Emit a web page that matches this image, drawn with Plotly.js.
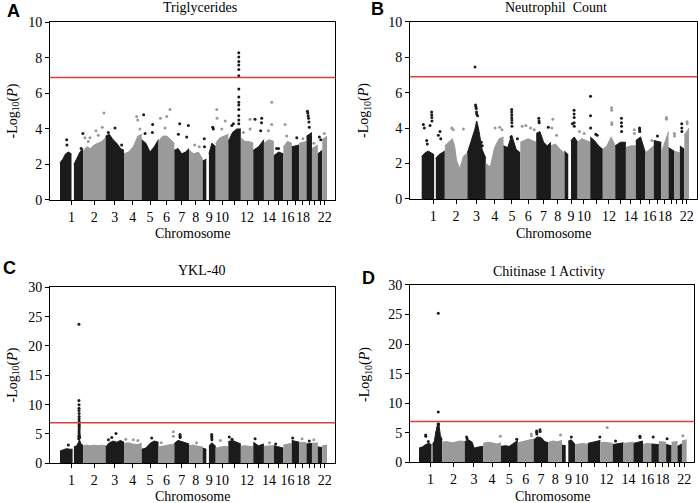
<!DOCTYPE html>
<html><head><meta charset="utf-8">
<script src="https://cdn.plot.ly/plotly-3.0.1.min.js"></script>
<style>html,body{margin:0;padding:0;background:#fff}#chart{width:698px;height:503px}</style>
</head><body><div id="chart"></div>
<script>
// ---------- DATA ----------
const chromLen = [249,243,198,191,181,171,159,146,141,136,135,134,115,107,103,90,81,78,59,63,48,51];
const chromLabels = ['1','2','3','4','5','6','7','8','9','10','','12','','14','','16','','18','','','','22'];
const sigThreshold = 6.9;

// envelope of the dense point mass per chromosome: [Mb, -log10 P]; null = gap (centromere)
const envA = [
 [[0,2.1],[30,2.3],[60,2.6],[90,2.7],[124,2.6],null,[150,2.0],[185,2.4],[215,2.7],[249,2.9]],
 [[0,2.7],[40,3.0],[80,2.9],[120,3.1],[160,3.2],[200,3.3],[243,3.5]],
 [[0,3.6],[40,3.7],[80,3.4],[120,3.2],[160,2.9],[198,2.8]],
 [[0,2.6],[50,2.7],[100,3.0],[150,3.6],[191,3.7]],
 [[0,3.4],[45,3.2],[90,2.7],[135,3.0],[181,3.4]],
 [[0,3.3],[45,3.6],[90,3.6],[130,3.4],[171,3.2]],
 [[0,2.8],[40,2.9],[80,2.6],[120,2.7],[159,2.9]],
 [[0,2.8],[50,2.6],[100,2.7],[146,2.3]],
 [[0,2.2],[40,2.3],null,[68,2.6],[100,3.2],[141,3.0]],
 [[0,3.2],[45,3.5],[90,3.6],[136,3.7]],
 [[0,3.3],[45,3.8],[90,4.0],[135,4.0]],
 [[0,3.5],[45,3.3],[90,3.3],[134,3.2]],
 [[0,2.8],[57,3.0],[115,3.4]],
 [[0,3.2],[53,3.4],[107,3.3]],
 [[0,2.5],[51,2.7],[103,2.6]],
 [[0,3.0],[45,3.3],[90,3.2]],
 [[0,3.0],[81,3.1]],
 [[0,3.2],[78,3.3]],
 [[0,3.6],[59,3.8]],
 [[0,2.9],[63,3.1]],
 [[0,2.6],[48,2.8]],
 [[0,3.4],[51,3.6]]
];
// sparse points above the mass: [chromosome, Mb, -log10 P]
const outA = [
 [1,72,3.4],[1,75,3.1],[1,228,2.9],[1,247,3.75],
 [2,20,3.5],[2,74,3.5],[2,56,3.3],[2,139,3.9],[2,164,3.65],[2,207,4.1],[2,225,4.9],
 [3,101,4.05],[3,29,3.8],[3,173,3.1],
 [4,137,4.7],[4,148,4.5],[4,172,4.0],
 [5,21,4.8],[5,118,4.25],[5,115,3.8],[5,36,3.75],
 [6,21,4.6],[6,125,5.1],[6,89,4.7],[6,71,4.05],
 [7,58,4.3],[7,43,3.7],[7,151,4.2],[7,133,3.55],
 [8,60,3.1],[8,110,3.0],
 [9,18,3.45],[9,20,3.0],[9,109,4.1],[9,115,4.0],
 [10,12,5.1],[10,14,4.6],[10,102,4.45],[10,66,4.0],
 [11,113,8.3],[11,113,8.05],[11,113,7.8],[11,113,7.6],[11,113,7.35],[11,113,7.0],[11,113,6.25],[11,113,5.8],[11,113,5.5],[11,113,5.35],[11,113,5.1],[11,113,4.75],[11,113,4.5],[11,113,4.3],[11,38,4.2],[11,55,4.3],
 [12,99,4.55],[12,27,3.8],[12,100,4.0],
 [13,19,4.55],[13,91,4.6],[13,89,4.35],[13,80,3.9],
 [14,84,5.5],[14,84,4.25],[14,48,3.9],
 [15,50,2.9],[15,30,2.9],
 [16,18,4.25],[16,36,3.6],
 [17,54,3.5],
 [18,40,3.45],
 [19,10,5.0],[19,14,4.9],[19,18,4.75],[19,22,4.6],[19,26,4.4],[19,30,4.1],
 [20,20,3.2],
 [21,17,3.55],[21,32,3.4],
 [22,23,3.75]
];

const envB = [
 [[0,2.4],[35,2.6],[70,2.7],[105,2.6],[134,2.5],null,[152,2.3],[185,2.5],[215,2.6],[249,2.7]],
 [[0,3.0],[40,3.2],[80,3.4],[105,3.0],[125,2.2],[160,1.7],[200,2.4],[243,2.6]],
 [[0,2.6],[40,3.2],[79,3.9],[100,4.4],[119,4.0],[158,2.8],[198,2.3]],
 [[0,2.0],[48,1.8],[95,2.9],[143,3.4],[191,3.5]],
 [[0,3.0],[45,2.9],[88,3.6],[136,2.8],[181,2.6]],
 [[0,3.2],[43,3.3],[86,3.4],[128,3.3],[171,3.2]],
 [[0,3.7],[40,3.8],[80,3.2],[119,3.0],[159,3.2]],
 [[0,3.0],[49,3.1],[97,2.8],[146,2.6]],
 [[0,2.7],[40,2.5],null,[70,3.3],[105,3.5],[141,3.2]],
 [[0,3.2],[45,3.4],[90,3.3],[136,3.2]],
 [[0,3.5],[45,3.3],[90,3.0],[135,2.8]],
 [[0,2.8],[45,3.0],[90,3.5],[134,3.0]],
 [[0,3.0],[57,3.2],[115,3.2]],
 [[0,2.9],[53,3.0],[107,3.0]],
 [[0,3.3],[51,3.5],[103,2.6]],
 [[0,2.6],[45,2.8],[90,3.0]],
 [[0,3.3],[81,3.2]],
 [[0,2.6],[78,3.8]],
 [[0,2.9],[59,2.7]],
 [[0,2.7],[63,2.6]],
 [[0,3.0],[48,2.8]],
 [[0,3.6],[51,4.0]]
];
const outB = [
 [1,17,4.2],[1,28,4.0],[1,54,3.3],[1,60,3.1],[1,90,4.15],[1,107,4.9],[1,108,4.75],[1,109,4.6],[1,110,4.4],[1,179,3.6],[1,197,3.8],[1,205,3.4],
 [2,75,4.0],[2,90,3.9],[2,200,3.95],
 [3,82,7.45],[3,88,5.3],[3,92,5.2],[3,95,5.1],[3,98,4.9],[3,100,4.8],[3,110,4.7],[3,150,3.2],[3,160,3.0],
 [4,100,4.0],[4,150,4.05],[4,175,3.9],
 [5,88,5.05],[5,88,4.9],[5,89,4.75],[5,89,4.6],[5,90,4.45],[5,90,4.3],[5,91,4.1],[5,80,3.5],[5,150,3.4],
 [6,20,4.1],[6,60,4.15],[6,110,4.0],[6,150,3.9],
 [7,28,4.55],[7,30,4.4],[7,32,4.3],[7,130,4.05],
 [8,20,4.5],[8,10,4.0],[8,60,3.6],
 [9,103,5.0],[9,103,4.8],[9,104,4.6],[9,104,4.3],[9,105,4.1],[9,85,4.25],
 [10,20,3.8],[10,70,3.7],
 [11,3,5.8],[11,3,4.7],[11,4,4.0],[11,60,3.65],[11,75,3.6],
 [12,95,5.15],[12,96,5.0],[12,97,4.3],[12,98,4.2],
 [13,67,4.55],[13,67,4.3],[13,68,4.1],[13,69,3.8],
 [14,90,3.9],[14,91,3.7],
 [15,40,4.0],[15,41,3.9],[15,42,3.8],
 [16,70,3.3],
 [17,40,3.55],
 [18,55,4.6],[18,56,4.5],
 [20,5,3.7],[20,6,3.55],
 [21,20,4.25],[21,21,4.0],[21,22,3.8],
 [22,30,4.35],[22,31,4.25]
];

const envC = [
 [[0,2.1],[35,2.3],[70,2.5],[105,2.4],[136,2.4],null,[150,2.8],[180,3.0],[200,3.6],[210,4.0],[225,3.4],[249,3.0]],
 [[0,3.0],[40,3.1],[80,3.0],[120,3.1],[160,3.0],[200,3.1],[243,3.0]],
 [[0,2.8],[40,3.5],[80,3.8],[120,3.6],[160,3.9],[198,3.6]],
 [[0,3.4],[48,3.5],[95,3.3],[143,3.2],[191,3.4]],
 [[0,2.4],[45,2.6],[90,3.4],[136,3.8],[181,3.6]],
 [[0,2.8],[43,2.9],[86,3.0],[128,3.1],[171,3.3]],
 [[0,3.4],[40,3.9],[80,3.7],[119,3.5],[159,3.3]],
 [[0,3.0],[49,3.1],[97,2.9],[146,2.8]],
 [[0,2.6],[40,2.4],null,[68,3.0],[100,3.5],[141,2.9]],
 [[0,2.6],[45,2.8],[90,2.9],[136,2.8]],
 [[0,3.7],[45,3.9],[90,3.6],[135,3.3]],
 [[0,2.9],[45,3.0],[90,2.9],[134,2.8]],
 [[0,3.6],[57,3.0],[115,3.3]],
 [[0,2.9],[53,3.0],[107,3.0]],
 [[0,3.0],[51,2.8],[103,2.6]],
 [[0,3.1],[45,3.3],[90,3.4]],
 [[0,3.9],[81,3.6]],
 [[0,3.6],[78,3.5]],
 [[0,3.3],[59,3.4]],
 [[0,3.4],[63,3.5]],
 [[0,2.8],[48,2.7]],
 [[0,3.0],[51,3.1]]
];
const outC = [
 [1,204,23.7],[1,204,10.7],[1,205,10.0],[1,205,9.4],[1,205,9.0],[1,206,8.5],[1,206,8.0],[1,206,7.6],[1,206,7.2],[1,207,6.9],[1,207,6.6],[1,207,6.3],[1,207,6.0],[1,206,5.7],[1,205,5.4],[1,206,5.1],[1,208,4.8],[1,203,4.6],[1,209,4.4],[1,202,4.2],[1,211,4.4],[1,90,3.1],
 [3,112,5.1],[3,66,4.4],[3,30,4.0],
 [4,20,4.1],[4,100,4.0],[4,150,3.9],
 [5,108,4.3],
 [6,160,5.4],[6,161,4.6],[6,30,3.5],
 [7,61,4.9],[7,62,4.6],[7,63,4.4],
 [8,80,3.5],
 [9,98,4.9],[9,99,4.6],[9,99,4.3],[9,100,4.0],
 [10,50,3.9],
 [11,10,4.5],[11,40,4.1],
 [13,20,4.2],
 [14,60,3.5],
 [15,20,3.3],
 [17,10,4.3],
 [18,30,4.2],
 [19,30,3.8],
 [20,20,4.0]
];

const envD = [
 [[0,2.4],[35,2.6],[70,3.0],[105,3.2],[134,3.0],null,[145,3.0],[165,3.6],[180,5.0],[195,6.2],[215,6.3],[230,4.5],[249,3.8]],
 [[0,3.4],[40,3.5],[80,3.4],[120,3.3],[160,3.5],[200,3.6],[243,3.5]],
 [[0,3.5],[40,3.8],[80,3.4],[100,2.4],[150,2.6],[198,2.7]],
 [[0,3.2],[48,3.4],[95,3.3],[143,3.1],[191,3.3]],
 [[0,2.7],[45,2.8],[90,2.7],[136,3.2],[181,3.7]],
 [[0,3.3],[43,3.5],[86,3.6],[128,3.8],[171,3.9]],
 [[0,3.8],[40,4.3],[80,4.2],[119,3.5],[159,3.3]],
 [[0,3.4],[49,3.6],[97,3.5],[146,3.7]],
 [[0,2.9],[40,2.8],null,[68,3.6],[100,3.8],[141,3.0]],
 [[0,3.0],[45,3.1],[90,3.2],[136,3.0]],
 [[0,3.2],[45,3.4],[90,3.6],[135,3.7]],
 [[0,3.3],[45,3.4],[90,3.3],[134,3.2]],
 [[0,3.0],[57,3.2],[115,3.3]],
 [[0,3.2],[53,3.3],[107,3.4]],
 [[0,3.2],[51,3.4],[103,3.6]],
 [[0,3.0],[45,3.2],[90,3.1]],
 [[0,3.1],[81,3.0]],
 [[0,3.5],[78,3.4]],
 [[0,3.0],[59,2.8]],
 [[0,3.4],[63,3.5]],
 [[0,2.7],[48,3.1]],
 [[0,3.6],[51,3.8]]
];
const outD = [
 [1,72,4.6],[1,73,4.4],[1,100,3.5],[1,207,25.2],[1,207,8.5],[1,205,6.5],[1,208,6.4],[1,210,6.5],[1,190,5.0],[1,192,4.6],
 [3,20,4.3],[3,25,4.0],
 [4,185,4.4],
 [5,170,3.9],
 [6,145,4.8],[6,146,4.5],
 [7,32,5.3],[7,33,5.1],[7,34,4.8],[7,68,5.5],[7,69,5.2],
 [8,130,4.6],
 [9,100,4.3],
 [11,130,4.3],
 [12,74,5.9],
 [13,30,3.6],
 [15,70,4.4],[15,71,4.2],
 [17,20,4.3],
 [19,10,4.0],
 [22,10,4.5]
];

// ---------- BUILD ----------
const BLACK = '#1b1b1b', GRAY = '#9a9a9a';
const SERIF = 'Liberation Serif';
const offs = []; let acc = 0;
chromLen.forEach(l => { offs.push(acc); acc += l; });
const mids = chromLen.map((l,i) => offs[i] + l/2);

const panels = [
 {env: envA, pts: outA, sfx: '',  xd:[0.0716,0.4799], yd:[0.6024,0.9553], xr:[-108,2965], yr:[0,10], yt:[0,2,4,6,8,10]},
 {env: envB, pts: outB, sfx: '2', xd:[0.5874,0.9986], yd:[0.6044,0.9569], xr:[-126,2965], yr:[0,10], yt:[0,2,4,6,8,10]},
 {env: envC, pts: outC, sfx: '3', xd:[0.0716,0.4799], yd:[0.0789,0.4288], xr:[-108,2965], yr:[0,30], yt:[0,5,10,15,20,25,30]},
 {env: envD, pts: outD, sfx: '4', xd:[0.5874,0.9943], yd:[0.0809,0.4334], xr:[-97,2958],  yr:[0,30], yt:[0,5,10,15,20,25,30]}
];

const traces = [];
const layout = {
  width: 698, height: 503, margin: {l:0, r:0, t:0, b:0},
  paper_bgcolor: '#fff', plot_bgcolor: '#fff', showlegend: false,
  font: {family: SERIF, size: 14, color: '#000'},
  shapes: [], annotations: []
};
const mkFont = (fam, size, weight) => ({family: fam, size: size, color: '#000', weight: weight || 'normal'});

panels.forEach(p => {
  const xa = 'x' + p.sfx, ya = 'y' + p.sfx;
  p.env.forEach((list, c) => {
    const col = (c % 2 === 0) ? BLACK : GRAY;
    let run = [];
    const flush = () => {
      if (run.length) {
        traces.push({type:'scatter', mode:'lines', x: run.map(q => offs[c] + q[0]), y: run.map(q => q[1]),
          fill:'tozeroy', fillcolor: col, line:{color: col, width: 1}, xaxis: xa, yaxis: ya, hoverinfo:'skip'});
      }
      run = [];
    };
    list.forEach(q => { if (q === null) flush(); else run.push(q); });
    flush();
  });
  [[BLACK, 1], [GRAY, 0]].forEach(([col, par]) => {
    const sel = p.pts.filter(q => q[0] % 2 === par);
    traces.push({type:'scatter', mode:'markers', x: sel.map(q => offs[q[0]-1] + q[1]), y: sel.map(q => q[2]),
      marker:{color: col, size: 3}, xaxis: xa, yaxis: ya, hoverinfo:'skip'});
  });
  layout['xaxis' + p.sfx] = {domain: p.xd, range: p.xr, anchor: ya, tickmode:'array', tickvals: mids, ticktext: chromLabels,
    ticks:'outside', ticklen: 4, tickwidth: 1, tickcolor:'#000', tickangle: 0, showline: true, linecolor:'#000', linewidth: 1,
    mirror: true, showgrid: false, zeroline: false, tickfont: mkFont(SERIF, 14), fixedrange: true};
  layout['yaxis' + p.sfx] = {domain: p.yd, range: p.yr, anchor: xa, tickmode:'array', tickvals: p.yt,
    ticks:'outside', ticklen: 4, tickwidth: 1, tickcolor:'#000', showline: true, linecolor:'#000', linewidth: 1,
    mirror: true, showgrid: false, zeroline: false, tickfont: mkFont(SERIF, 14), fixedrange: true};
  layout.shapes.push({type:'line', xref: xa + ' domain', yref: ya, x0: 0, x1: 1, y0: sigThreshold, y1: sigThreshold,
    line:{color:'#d8403f', width: 1.5}});
});

const W = 698, H = 503;
function ann(text, px, py, font, extra) {
  layout.annotations.push(Object.assign({text: text, x: px / W, y: 1 - py / H, xref:'paper', yref:'paper',
    showarrow:false, xanchor:'center', yanchor:'middle', font: font}, extra || {}));
}
ann('Triglycerides', 200, 8, mkFont(SERIF, 14));
ann('Neutrophil\u00a0 Count', 555.5, 7.5, mkFont(SERIF, 14));
ann('YKL-40', 201, 270, mkFont(SERIF, 14));
ann('Chitinase 1 Activity', 549, 271, mkFont(SERIF, 14));
ann('A', 13, 11, mkFont('Liberation Sans', 18, 'bold'));
ann('B', 377.5, 9, mkFont('Liberation Sans', 18, 'bold'));
ann('C', 9, 267.5, mkFont('Liberation Sans', 18, 'bold'));
ann('D', 368.7, 277.5, mkFont('Liberation Sans', 18, 'bold'));
const yTitle = '-Log<sub>10</sub>(<i>P</i>)';
ann(yTitle, 12.5, 111, mkFont(SERIF, 14), {textangle: -90});
ann(yTitle, 364, 110, mkFont(SERIF, 14), {textangle: -90});
ann(yTitle, 12.5, 375, mkFont(SERIF, 14), {textangle: -90});
ann(yTitle, 365, 374, mkFont(SERIF, 14), {textangle: -90});
ann('Chromosome', 192.5, 233.5, mkFont(SERIF, 14));
ann('Chromosome', 553.5, 233.5, mkFont(SERIF, 14));
ann('Chromosome', 192.5, 496, mkFont(SERIF, 14));
ann('Chromosome', 552, 496, mkFont(SERIF, 14));

Plotly.newPlot('chart', traces, layout, {staticPlot: true, displayModeBar: false});
</script></body></html>
